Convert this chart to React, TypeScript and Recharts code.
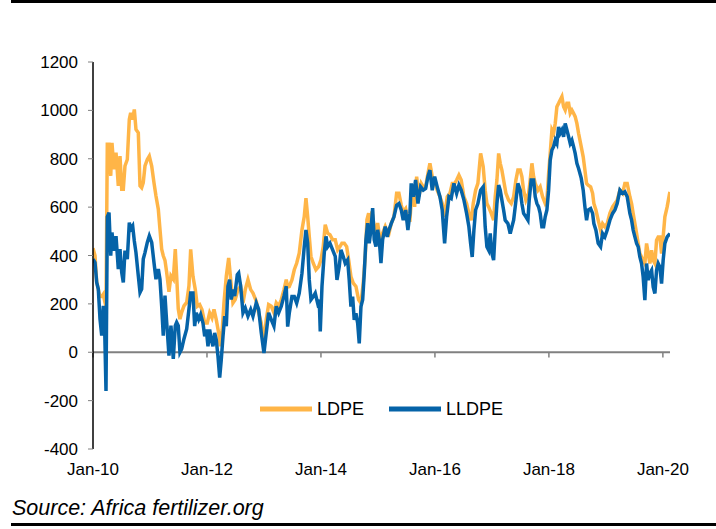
import { LineChart, Line, XAxis, YAxis, ReferenceLine } from 'recharts';

// weekly-ish readings, dates as decimal years
const ldpeDates = [
  2010.0, 2010.035, 2010.065, 2010.093, 2010.123, 2010.153, 2010.181, 2010.205, 2010.228, 2010.251,
  2010.281, 2010.311, 2010.333, 2010.368, 2010.404, 2010.444, 2010.474, 2010.504, 2010.532, 2010.561,
  2010.602, 2010.637, 2010.661, 2010.696, 2010.725, 2010.754, 2010.795, 2010.825, 2010.854, 2010.882,
  2010.912, 2010.953, 2010.988, 2011.03, 2011.07, 2011.105, 2011.146, 2011.175, 2011.205, 2011.233,
  2011.263, 2011.293, 2011.333, 2011.368, 2011.409, 2011.444, 2011.468, 2011.496, 2011.526, 2011.556,
  2011.596, 2011.644, 2011.684,
  2011.714, 2011.754, 2011.795, 2011.83, 2011.872, 2011.912, 2011.96, 2012.005, 2012.047, 2012.088,
  2012.123, 2012.163, 2012.205, 2012.233, 2012.268, 2012.298, 2012.339, 2012.381, 2012.416, 2012.456,
  2012.496, 2012.544, 2012.591, 2012.632, 2012.672, 2012.719, 2012.767, 2012.807, 2012.865, 2012.907,
  2012.953, 2013.0, 2013.04, 2013.082, 2013.128, 2013.175, 2013.216, 2013.258, 2013.304, 2013.351,
  2013.391,
  2013.416, 2013.444, 2013.491, 2013.532, 2013.574, 2013.619, 2013.667, 2013.707, 2013.737, 2013.767,
  2013.795, 2013.825, 2013.865, 2013.912, 2013.96, 2014.0, 2014.04, 2014.075, 2014.118, 2014.158,
  2014.205, 2014.251, 2014.293, 2014.333, 2014.368, 2014.409, 2014.451, 2014.486, 2014.526, 2014.567,
  2014.614, 2014.661, 2014.702, 2014.742, 2014.777, 2014.807, 2014.837, 2014.865, 2014.895, 2014.925,
  2014.953, 2014.995, 2015.035, 2015.082, 2015.128,
  2015.153, 2015.193, 2015.233, 2015.281, 2015.328, 2015.368, 2015.409, 2015.444, 2015.486, 2015.526,
  2015.561, 2015.602, 2015.644, 2015.679, 2015.719, 2015.76, 2015.795, 2015.837, 2015.877, 2015.912,
  2015.953, 2015.995, 2016.04, 2016.088, 2016.128, 2016.17, 2016.216, 2016.263, 2016.304, 2016.346,
  2016.381, 2016.421, 2016.461, 2016.509, 2016.556, 2016.596, 2016.637, 2016.672, 2016.714, 2016.754,
  2016.802, 2016.847,
  2016.882, 2016.912, 2016.942, 2016.988, 2017.03, 2017.058, 2017.088, 2017.118, 2017.146, 2017.175,
  2017.205, 2017.246, 2017.293, 2017.339, 2017.381, 2017.421, 2017.456, 2017.496, 2017.526, 2017.556,
  2017.596, 2017.644, 2017.672, 2017.702, 2017.732, 2017.76, 2017.807, 2017.847, 2017.889, 2017.935,
  2017.965, 2017.995, 2018.023, 2018.053, 2018.082, 2018.111, 2018.14, 2018.17, 2018.198, 2018.228,
  2018.258, 2018.286, 2018.316, 2018.346, 2018.374, 2018.404, 2018.433, 2018.461, 2018.491, 2018.521,
  2018.567,
  2018.602, 2018.632, 2018.661, 2018.689, 2018.732, 2018.767, 2018.789, 2018.825, 2018.865, 2018.907,
  2018.942, 2018.982, 2019.023, 2019.07, 2019.118, 2019.158, 2019.198, 2019.246, 2019.293, 2019.333,
  2019.374, 2019.421, 2019.451, 2019.479, 2019.509, 2019.539, 2019.567, 2019.596, 2019.626, 2019.654,
  2019.684, 2019.714, 2019.742, 2019.772, 2019.802, 2019.83, 2019.86, 2019.889, 2019.918, 2019.947,
  2019.977, 2020.005, 2020.035, 2020.075, 2020.123,
];

const ldpePrices = [
  430, 400, 290, 260, 230, 230, 240, 210, 190, 860,
  860, 729, 866, 756, 825, 688, 811, 674, 674, 770,
  797, 962, 990, 962, 1004, 921, 907, 688, 680, 701,
  770, 797, 811, 770, 701, 646, 591, 509, 426, 399,
  380, 330, 250, 316, 302, 426, 316, 180, 137, 165,
  192, 206, 275,
  425, 314, 259, 190, 197, 177, 121, 121, 163, 142,
  177, 135, 80, 25, 94, 204, 314, 390, 300, 204,
  218, 259, 273, 204, 259, 300, 259, 245, 211, 163,
  121, 39, 135, 197, 190, 163, 204, 190, 218, 259,
  300,
  270, 272, 299, 341, 368, 410, 506, 561, 637, 561,
  479, 396, 368, 341, 354, 382, 437, 527, 492, 486,
  465, 465, 423, 437, 451, 451, 437, 382, 313, 286,
  272, 217, 203, 286, 396, 548, 575, 520, 582, 534,
  479, 534, 465, 492, 520,
  505, 491, 532, 560, 657, 657, 608, 581, 594, 546,
  546, 684, 601, 726, 643, 698, 684, 684, 739, 781,
  726, 712, 670, 643, 615, 560, 643, 657, 698, 698,
  712, 732, 712, 643, 615, 574, 546, 615, 670, 698,
  822, 767,
  670, 615, 601, 574, 546, 643, 712, 822, 781, 753,
  712, 657, 629, 615, 643, 712, 753, 753, 726, 670,
  629, 657, 712, 781, 726, 698, 670, 684, 643, 615,
  629, 739, 822, 919, 905, 946, 1015, 1029, 1043, 1057,
  1015, 1001, 1029, 1029, 988, 1001, 988, 974, 946, 905,
  850,
  808, 753, 698, 691, 684, 657, 615, 588, 546, 505,
  532, 519, 532, 574, 601, 615, 629, 670, 657, 698,
  698, 643, 615, 574, 532, 491, 450, 408, 394, 381,
  367, 450, 408, 367, 422, 381, 367, 463, 477, 477,
  408, 477, 560, 601, 663,
];

const lldpeDates = [
  2010.0, 2010.035, 2010.065, 2010.093, 2010.123, 2010.153, 2010.181, 2010.205, 2010.228, 2010.251,
  2010.281, 2010.311, 2010.333, 2010.368, 2010.404, 2010.444, 2010.474, 2010.504, 2010.532, 2010.561,
  2010.602, 2010.637, 2010.661, 2010.696, 2010.725, 2010.754, 2010.795, 2010.825, 2010.854, 2010.882,
  2010.912, 2010.953, 2010.988, 2011.03, 2011.07, 2011.105, 2011.146, 2011.175, 2011.205, 2011.233,
  2011.263, 2011.293, 2011.333, 2011.368, 2011.409, 2011.444, 2011.468, 2011.496, 2011.526, 2011.556,
  2011.596, 2011.644, 2011.684,
  2011.714, 2011.754, 2011.784, 2011.812, 2011.854, 2011.889, 2011.93, 2011.96, 2011.988, 2012.018,
  2012.047, 2012.075, 2012.105, 2012.135, 2012.163, 2012.193, 2012.223, 2012.251, 2012.281, 2012.311,
  2012.339, 2012.368, 2012.398, 2012.426, 2012.456, 2012.486, 2012.532, 2012.556, 2012.591, 2012.632,
  2012.672, 2012.719, 2012.767, 2012.807, 2012.865, 2012.907, 2012.953, 2013.0, 2013.04, 2013.082,
  2013.128, 2013.175, 2013.216, 2013.258, 2013.304, 2013.351, 2013.391,
  2013.416, 2013.444, 2013.491, 2013.532, 2013.574, 2013.619, 2013.667, 2013.707, 2013.737, 2013.767,
  2013.795, 2013.825, 2013.865, 2013.9, 2013.942, 2013.97, 2013.988, 2014.018, 2014.058, 2014.088,
  2014.118, 2014.158, 2014.205, 2014.251, 2014.281, 2014.321, 2014.351, 2014.391, 2014.426, 2014.468,
  2014.496, 2014.526, 2014.556, 2014.584, 2014.614, 2014.644, 2014.672, 2014.702, 2014.732, 2014.76,
  2014.789, 2014.819, 2014.847, 2014.877, 2014.907, 2014.935, 2014.965, 2014.995, 2015.023, 2015.053,
  2015.082, 2015.128,
  2015.163, 2015.193, 2015.233, 2015.281, 2015.328, 2015.368, 2015.409, 2015.444, 2015.486, 2015.526,
  2015.561, 2015.584, 2015.619, 2015.661, 2015.702, 2015.749, 2015.795, 2015.837, 2015.877, 2015.912,
  2015.953, 2015.995, 2016.04, 2016.088, 2016.128, 2016.17, 2016.205, 2016.246, 2016.286, 2016.333,
  2016.381, 2016.421, 2016.461, 2016.509, 2016.556, 2016.596, 2016.626, 2016.654, 2016.684, 2016.714,
  2016.754, 2016.802, 2016.847,
  2016.882, 2016.912, 2016.942, 2016.97, 2017.0, 2017.03, 2017.058, 2017.088, 2017.118, 2017.146,
  2017.175, 2017.205, 2017.233, 2017.281, 2017.321, 2017.351, 2017.381, 2017.409, 2017.456, 2017.496,
  2017.526, 2017.556, 2017.596, 2017.632, 2017.654, 2017.689, 2017.732, 2017.76, 2017.789, 2017.819,
  2017.847, 2017.877, 2017.907, 2017.935, 2017.965, 2017.995, 2018.023, 2018.053, 2018.082, 2018.111,
  2018.14, 2018.17, 2018.198, 2018.228, 2018.258, 2018.286, 2018.316, 2018.346, 2018.374, 2018.404,
  2018.433, 2018.461, 2018.491, 2018.521, 2018.567,
  2018.602, 2018.632, 2018.661, 2018.689, 2018.732, 2018.767, 2018.789, 2018.825, 2018.865, 2018.907,
  2018.942, 2018.982, 2019.023, 2019.07, 2019.118, 2019.158, 2019.198, 2019.246, 2019.293, 2019.333,
  2019.374, 2019.421, 2019.451, 2019.479, 2019.509, 2019.539, 2019.567, 2019.596, 2019.626, 2019.654,
  2019.684, 2019.714, 2019.742, 2019.772, 2019.802, 2019.83, 2019.86, 2019.889, 2019.918, 2019.947,
  2019.977, 2020.005, 2020.035, 2020.075, 2020.123,
];

const lldpePrices = [
  385, 371, 289, 261, 137, 69, 192, 96, -160, 560,
  577, 399, 495, 420, 480, 344, 426, 330, 289, 420,
  385, 536, 509, 522, 460, 412, 316, 247, 261, 385,
  412, 454, 481, 454, 371, 302, 344, 302, 192, 69,
  234, 124, -14, 110, -27, 110, 124, 110, 0, 14,
  55, 96, 179,
  245, 245, 108, 163, 135, 156, 121, 66, 94, 25,
  94, 52, 25, 80, 52, -17, -105, -30, 66, 149,
  108, 273, 300, 218, 259, 232, 321, 328, 273, 163,
  183, 149, 177, 149, 204, 177, 80, -3, 80, 163,
  135, 108, 190, 163, 190, 232, 273,
  106, 161, 230, 230, 203, 244, 327, 437, 506, 451,
  299, 217, 230, 244, 203, 217, 86, 272, 410, 479,
  437, 451, 423, 396, 299, 354, 423, 396, 368, 382,
  299, 189, 230, 134, 161, 120, 37, 189, 217, 327,
  465, 534, 451, 506, 596, 465, 437, 506, 465, 368,
  465, 520,
  477, 505, 532, 560, 608, 615, 588, 546, 588, 505,
  574, 698, 643, 712, 615, 684, 670, 677, 726, 753,
  670, 726, 684, 643, 588, 450, 560, 643, 636, 698,
  657, 691, 670, 629, 574, 519, 450, 394, 505, 588,
  615, 670, 684,
  519, 436, 422, 491, 408, 381, 505, 615, 691, 670,
  629, 588, 546, 532, 491, 519, 546, 601, 698, 670,
  615, 574, 560, 546, 629, 712, 712, 643, 615, 601,
  574, 519, 519, 560, 588, 670, 794, 836, 850, 877,
  863, 932, 905, 919, 891, 946, 919, 891, 863, 877,
  850, 822, 781, 760, 720,
  670, 601, 546, 588, 594, 574, 532, 505, 450, 436,
  491, 477, 505, 546, 574, 588, 615, 670, 657, 663,
  643, 574, 546, 505, 477, 450, 436, 394, 367, 312,
  215, 367, 298, 326, 339, 270, 243, 339, 367, 353,
  284, 381, 450, 477, 491,
];

const tickYears = [2010, 2012, 2014, 2016, 2018, 2020];
const tickLabels = ['Jan-10', 'Jan-12', 'Jan-14', 'Jan-16', 'Jan-18', 'Jan-20'];
const yTicks = [-400, -200, 0, 200, 400, 600, 800, 1000, 1200];

const ORANGE = '#FFB547';
const BLUE = '#0563A8';

const ldpeData = ldpeDates.map((date, i) => ({ date, price: ldpePrices[i] }));
const lldpeData = lldpeDates.map((date, i) => ({ date, price: lldpePrices[i] }));

const legendItems = [
  { name: 'LDPE', color: ORANGE },
  { name: 'LLDPE', color: BLUE },
];

export default function App() {
  return (
    <div
      style={{
        position: 'absolute',
        left: 0,
        top: 0,
        width: 716,
        height: 529,
        background: '#fff',
        fontFamily: '"Liberation Sans", Arial, sans-serif',
        color: '#000',
      }}
    >
      <div style={{ position: 'absolute', left: 11, top: 0, width: 705, height: 3, background: '#000' }} />

      <LineChart width={716} height={529} margin={{ top: 62, right: 46, bottom: 50, left: 0 }}>
        <XAxis
          type="number"
          dataKey="date"
          domain={[2010, 2020.125]}
          ticks={tickYears}
          tickFormatter={(v) => tickLabels[tickYears.indexOf(v)]}
          allowDataOverflow
          axisLine={false}
          tickLine={false}
          height={30}
          tickMargin={8}
          interval={0}
          tick={{ fill: '#000', fontSize: 17 }}
        />
        <YAxis
          type="number"
          domain={[-400, 1200]}
          ticks={yTicks}
          interval={0}
          width={93}
          axisLine={{ stroke: '#000', strokeWidth: 1.5 }}
          tickLine={{ stroke: '#808080' }}
          tickSize={5}
          tickMargin={10}
          tick={{ fill: '#000', fontSize: 17 }}
        />
        <ReferenceLine y={0} stroke="#808080" strokeWidth={2} />
        {tickYears.map((year) => (
          <ReferenceLine
            key={year}
            segment={[
              { x: year, y: 0 },
              { x: year, y: -22 },
            ]}
            stroke="#808080"
            strokeWidth={1.5}
          />
        ))}
        <Line
          data={ldpeData}
          dataKey="price"
          name="LDPE"
          type="linear"
          stroke={ORANGE}
          strokeWidth={3.5}
          dot={false}
          isAnimationActive={false}
        />
        <Line
          data={lldpeData}
          dataKey="price"
          name="LLDPE"
          type="linear"
          stroke={BLUE}
          strokeWidth={3.5}
          dot={false}
          isAnimationActive={false}
        />
      </LineChart>

      {/* Legend */}
      <div
        style={{
          position: 'absolute',
          left: 93,
          width: 577,
          top: 398,
          display: 'flex',
          justifyContent: 'center',
          alignItems: 'center',
          fontSize: 18,
          lineHeight: '22px',
        }}
      >
        {legendItems.map((item, i) => (
          <div key={item.name} style={{ display: 'flex', alignItems: 'center', marginRight: i === 0 ? 25 : 0 }}>
            <svg width={52} height={6}>
              <line x1={0} y1={3} x2={52} y2={3} stroke={item.color} strokeWidth={5} />
            </svg>
            <span style={{ marginLeft: 5 }}>{item.name}</span>
          </div>
        ))}
      </div>

      <div
        style={{
          position: 'absolute',
          left: 12,
          top: 497,
          fontSize: 21.5,
          lineHeight: '22px',
          fontStyle: 'italic',
          whiteSpace: 'nowrap',
        }}
      >
        Source: Africa fertilizer.org
      </div>
      <div style={{ position: 'absolute', left: 11, top: 523, width: 705, height: 3, background: '#000' }} />
    </div>
  );
}
